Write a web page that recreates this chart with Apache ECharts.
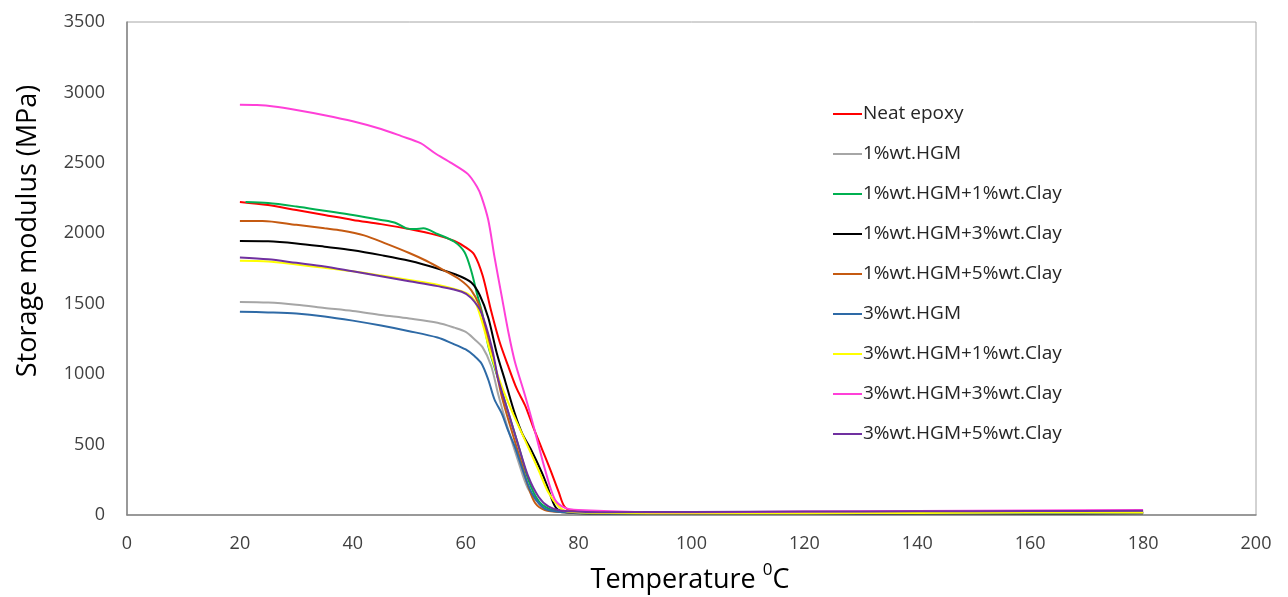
<!DOCTYPE html>
<html>
<head>
<meta charset="utf-8">
<script src="https://cdn.jsdelivr.net/npm/echarts@6/dist/echarts.min.js"></script>
<style>
html,body{margin:0;padding:0;background:#fff;overflow:hidden;}
#chart{width:1288px;height:597px;}
</style>
</head>
<body>
<div id="chart"></div>
<script>
var seriesNames = ["Neat epoxy","1%wt.HGM","1%wt.HGM+1%wt.Clay","1%wt.HGM+3%wt.Clay","1%wt.HGM+5%wt.Clay","3%wt.HGM","3%wt.HGM+1%wt.Clay","3%wt.HGM+3%wt.Clay","3%wt.HGM+5%wt.Clay"];
var seriesColors = ["#FF0000","#A6A6A6","#00B050","#000000","#C55A11","#2E6AA6","#FFFF00","#FF40D8","#7030A0"];
var xTicks = [0,20,40,60,80,100,120,140,160,180,200];
var yTicks = [0,500,1000,1500,2000,2500,3000,3500];
var xTitle = 'Temperature ';
var yTitle = 'Storage modulus (MPa)';

var neatEpoxy = [[20,2222],[25,2200],[30,2165],[35,2130],[40,2095],[45,2065],[50,2030],[55,1985],[58,1945],[60,1900],[61.5,1850],[63,1700],[64.5,1450],[66,1230],[67.5,1060],[69,900],[70.5,780],[72,620],[73.5,470],[75,320],[76.5,160],[77.5,60],[79,30],[85,18],[100,14],[120,15],[140,17],[160,19],[180,20]];
var hgm1 = [[20,1512],[25,1508],[30,1493],[35,1470],[40,1448],[45,1420],[50,1395],[55,1365],[58,1330],[60,1300],[61.5,1250],[63,1190],[64.5,1060],[65.8,850],[67.5,610],[69.4,370],[71,190],[73,80],[75,35],[80,18],[100,12],[120,13],[140,14],[160,16],[180,18]];
var hgm1clay1 = [[21,2222],[25,2215],[30,2190],[35,2160],[40,2130],[45,2095],[47.5,2075],[49.5,2035],[51,2030],[52.5,2035],[55,1995],[58,1940],[59.8,1865],[61,1730],[62,1570],[63,1420],[64,1200],[65.8,960],[67.6,720],[69.4,485],[71.1,250],[72.9,100],[74.7,45],[77,22],[85,12],[100,10],[120,11],[140,13],[160,15],[180,17]];
var hgm1clay3 = [[20,1945],[25,1943],[30,1928],[35,1905],[40,1880],[45,1845],[50,1805],[55,1750],[59,1695],[61,1650],[62.5,1560],[64,1400],[65.5,1150],[67,950],[68.7,720],[70,580],[71.5,470],[73.5,300],[74.5,200],[76,50],[78,18],[85,10],[100,8],[120,9],[140,10],[160,11],[180,12]];
var hgm1clay5 = [[20,2088],[24,2088],[30,2060],[35,2035],[38,2020],[42,1985],[46,1925],[50,1860],[53,1805],[56,1740],[59,1670],[61,1595],[62.5,1480],[63.4,1336],[65.1,1078],[66.4,840],[68.1,603],[69.9,367],[71.1,200],[72.3,85],[74,35],[77,20],[85,12],[100,10],[120,11],[140,12],[160,14],[180,15]];
var hgm3 = [[20,1443],[25,1438],[30,1430],[35,1410],[40,1380],[45,1345],[50,1305],[55,1260],[57.5,1220],[60,1175],[61.5,1130],[62.8,1076],[64,960],[65.1,820],[66.4,720],[67.5,600],[68.7,485],[70.5,272],[71.7,156],[73.5,59],[75,30],[80,15],[100,10],[120,11],[140,12],[160,14],[180,16]];
var hgm3clay1 = [[20,1805],[25,1800],[30,1778],[35,1755],[40,1730],[45,1700],[50,1668],[55,1635],[58,1605],[60.4,1570],[61.6,1520],[62.8,1384],[64.6,1124],[66.4,911],[68.1,745],[70.5,532],[72.9,319],[74.7,156],[76.5,59],[78,25],[85,14],[100,12],[120,13],[140,15],[160,17],[180,18]];
var hgm3clay3 = [[20,2912],[23,2910],[26,2900],[30,2875],[35,2838],[40,2795],[45,2740],[48.6,2690],[52,2640],[54.5,2570],[57.5,2498],[60.4,2420],[62,2330],[62.8,2259],[64,2094],[65.1,1833],[66.4,1549],[67.6,1290],[68.7,1090],[70.5,850],[72.3,590],[74,330],[75.8,110],[77.6,50],[80,35],[90,22],[100,20],[120,24],[140,28],[160,32],[180,35]];
var hgm3clay5 = [[20,1828],[25,1815],[30,1790],[35,1765],[40,1730],[45,1695],[50,1660],[55,1625],[59.3,1585],[61,1540],[62.8,1434],[64.6,1195],[65.8,958],[67.6,722],[69.4,485],[71.1,272],[72.9,130],[74.7,59],[77,30],[85,20],[100,22],[120,24],[140,26],[160,28],[180,30]];

var seriesData = [neatEpoxy,hgm1,hgm1clay1,hgm1clay3,hgm1clay5,hgm3,hgm3clay1,hgm3clay3,hgm3clay5];

var chart = echarts.init(document.getElementById('chart'));
var fontFam = "'Open Sans', 'DejaVu Sans', sans-serif";
chart.setOption({
  animation: false,
  backgroundColor: '#ffffff',
  grid: {left: 127, right: 32, top: 22, bottom: 82, containLabel: false, outerBoundsMode: 'none', show: true, borderColor: '#A6A6A6', borderWidth: 1},
  legend: {
    orient: 'vertical', left: 828, top: 99,
    icon: 'rect', itemWidth: 29, itemHeight: 2, itemGap: 20,
    textStyle: {fontFamily: fontFam, fontSize: 19, color: '#262626', lineHeight: 20, padding: [0,0,0,-4]},
    data: seriesNames
  },
  graphic: [
    {type: 'text', x: 690, y: 580, style: {
      text: '{m|' + xTitle + '}{sup|0}{m|C}', fontFamily: fontFam, fill: '#000', align: 'center', verticalAlign: 'middle',
      rich: {m: {fontSize: 27, fontFamily: fontFam, fill: '#000', lineHeight: 36}, sup: {fontSize: 17, fontFamily: fontFam, fill: '#000', verticalAlign: 'top', lineHeight: 22}}
    }},
    {type: 'text', x: 28, y: 231, rotation: Math.PI/2, style: {
      text: yTitle, fontFamily: fontFam, fontSize: 27, fill: '#000', align: 'center', verticalAlign: 'middle'
    }}
  ],
  xAxis: {
    type: 'value', min: xTicks[0], max: xTicks[xTicks.length-1], interval: 20,
    axisLine: {show: true, lineStyle: {color: '#868686', width: 1.5}},
    axisTick: {show: false},
    axisLabel: {fontFamily: fontFam, fontSize: 18, color: '#404040', margin: 20, formatter: function(v){return String(v);}},
    splitLine: {show: false}
  },
  yAxis: {
    type: 'value', min: yTicks[0], max: yTicks[yTicks.length-1], interval: 500,
    axisLine: {show: true, lineStyle: {color: '#868686', width: 1.5}},
    axisTick: {show: false},
    axisLabel: {fontFamily: fontFam, fontSize: 18, color: '#404040', margin: 22, formatter: function(v){return String(v);}},
    splitLine: {show: false}
  },
  series: seriesNames.map(function(n, i){
    return {
      name: n, type: 'line', data: seriesData[i], smooth: 0.3, showSymbol: false, symbol: 'none',
      lineStyle: {color: seriesColors[i], width: 2}, itemStyle: {color: seriesColors[i]}
    };
  })
});
</script>
</body>
</html>
